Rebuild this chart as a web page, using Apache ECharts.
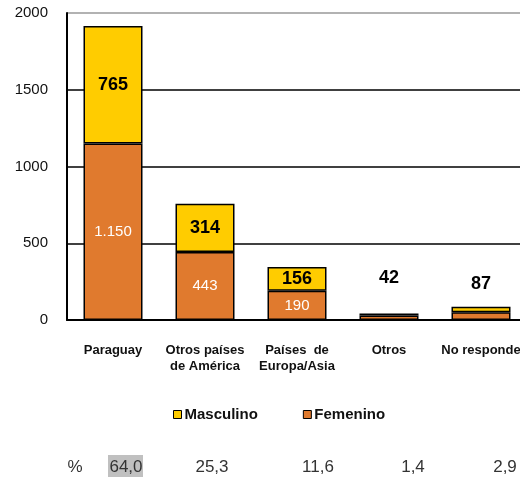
<!DOCTYPE html>
<html>
<head>
<meta charset="utf-8">
<script src="https://cdn.jsdelivr.net/npm/echarts@6/dist/echarts.min.js"></script>
<style>
  html, body { margin: 0; padding: 0; background: #fff; }
  #chart { width: 520px; height: 477px; }
</style>
</head>
<body>
<div id="chart"></div>
<script>
// datos
var categorias = ["Paraguay", "Otros países\nde América", "Países  de\nEuropa/Asia", "Otros", "No responde"];
var femenino = [1150, 443, 190, 30, 50];
var masculino = [765, 314, 156, 12, 37];
var etiquetasFem = ["1.150", "443", "190", "", ""];
var etiquetasMasc = ["765", "314", "156", "42", "87"];
var porcentajes = ["64,0", "25,3", "11,6", "1,4", "2,9"];
var posPorcentajes = [126, 212, 318, 413, 505];

var fuente = "Liberation Sans, Arial, sans-serif";

// etiquetas de "Otros" y "No responde" van por encima de la barra
var distMasc = [0, 0, 0, 27, 14];
var datosMasc = masculino.map(function (v, i) {
  var item = { value: v };
  if (distMasc[i] > 0) {
    item.label = { position: "top", distance: distMasc[i] };
  }
  return item;
});

var textosPct = [{
  type: "text", x: 75, y: 467,
  style: { text: "%", font: "17px " + fuente, fill: "#333", align: "center", verticalAlign: "middle" }
}];
porcentajes.forEach(function (p, i) {
  if (i === 0) {
    textosPct.push({
      type: "rect", shape: { x: 108, y: 455, width: 35, height: 22 },
      style: { fill: "#c0c0c0" }
    });
  }
  textosPct.push({
    type: "text", x: posPorcentajes[i], y: 467,
    style: { text: p, font: "17px " + fuente, fill: "#333", align: "center", verticalAlign: "middle" }
  });
});

var myChart = echarts.init(document.getElementById("chart"));
myChart.setOption({
  animation: false,
  textStyle: { fontFamily: fuente },
  grid: { left: 67, top: 13, width: 460, height: 307, outerBoundsMode: "none" },
  legend: {
    left: 168, top: 402,
    itemWidth: 8, itemHeight: 8, itemGap: 45,
    icon: "rect",
    textStyle: { fontSize: 15, fontWeight: "bold", color: "#111", padding: [0, 0, 0, -2] },
    data: [
      { name: "Masculino", itemStyle: { borderColor: "#000", borderWidth: 1 } },
      { name: "Femenino", itemStyle: { borderColor: "#000", borderWidth: 1 } }
    ]
  },
  xAxis: {
    type: "category",
    data: categorias,
    axisLine: { lineStyle: { color: "#000", width: 2 } },
    axisTick: { show: false },
    axisLabel: { color: "#111", fontSize: 13, fontWeight: "bold", margin: 22, lineHeight: 16, interval: 0 }
  },
  yAxis: {
    type: "value",
    min: 0, max: 2000, interval: 500,
    axisLine: { show: true, lineStyle: { color: "#000", width: 2 } },
    axisTick: { show: false },
    axisLabel: { color: "#111", fontSize: 15, margin: 19, formatter: function (v) { return String(v); } },
    splitLine: { lineStyle: { color: ["#000", "#000", "#000", "#000", "#999"], width: 1.5 } }
  },
  series: [
    {
      name: "Femenino", type: "bar", stack: "total", barWidth: 59,
      data: femenino,
      itemStyle: { color: "#e07a2e", borderColor: "#000", borderWidth: 1.5 },
      label: {
        show: true, position: "inside", color: "#fff", fontSize: 15,
        formatter: function (p) { return etiquetasFem[p.dataIndex]; }
      }
    },
    {
      name: "Masculino", type: "bar", stack: "total", barWidth: 59,
      data: datosMasc,
      itemStyle: { color: "#ffcc00", borderColor: "#000", borderWidth: 1.5 },
      label: {
        show: true, position: "inside", color: "#000", fontSize: 18, fontWeight: "bold",
        formatter: function (p) { return etiquetasMasc[p.dataIndex]; }
      }
    }
  ],
  graphic: textosPct
});
</script>
</body>
</html>
